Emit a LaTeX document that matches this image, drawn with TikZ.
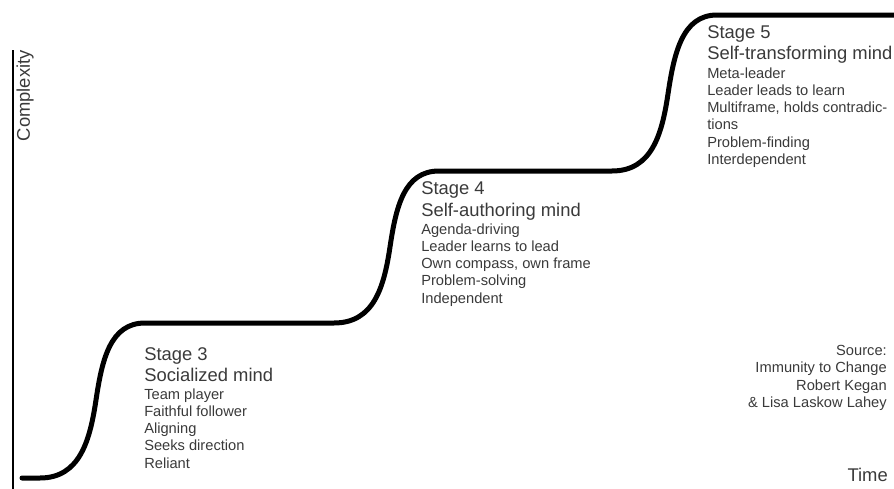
\documentclass[tikz,border=0pt]{standalone}
\usepackage{fontspec}
\setmainfont{Liberation Sans}
\definecolor{inkgray}{HTML}{3A3A3A}

\begin{document}
\begin{tikzpicture}[x=0.75pt, y=-0.75pt,
    stage/.style={
        anchor=base west,
        inner sep=0pt,
        text=inkgray,
        font=\fontsize{13.8}{16}\selectfont
    },
    item/.style={
        anchor=base west,
        inner sep=0pt,
        text=inkgray,
        font=\fontsize{11}{13}\selectfont
    },
    source/.style={
        item,
        anchor=base east
    },
    stair/.style={line width=3.75pt, line cap=round},
    axisline/.style={line width=1.6pt}
]
\useasboundingbox (0,0) rectangle (894,489);

%%%%%%%%%%%%%%%%%%%%%%%%
% Axis
%%%%%%%%%%%%%%%%%%%%%%%%

\coordinate (axtop) at (13,50);
\coordinate (axbot) at (13,489);
\draw[axisline] (axtop) -- (axbot);
\node[stage, rotate=90, anchor=base east] (complexity) at (30,50) {Complexity};
\node[stage, anchor=base east] (time) at (888,481) {Time};

%%%%%%%%%%%%%%%%%%%%%%%%
% Staircase
%%%%%%%%%%%%%%%%%%%%%%%%

\draw[stair] (22,478) -- (40,478)
    .. controls (80,478) and (90,440) .. (96,400)
    .. controls (102,360) and (110,323) .. (145,323)
    -- (334,323)
    .. controls (374,323) and (384,287) .. (390,247)
    .. controls (396,207) and (404,171) .. (439,171)
    -- (612,171)
    .. controls (652,171) and (662,134) .. (668,94)
    .. controls (674,54) and (682,15) .. (717,15)
    -- (894,15);

%%%%%%%%%%%%%%%%%%%%%%%%
% Stage 3
%%%%%%%%%%%%%%%%%%%%%%%%

\node[stage] (s3) at (144,360) {Stage 3};
\node[stage] (m3) at (144,381) {Socialized mind};
\foreach \t [count=\i] in {Team player, Faithful follower, Aligning,
    Seeks direction, Reliant}
    \node[item] (l3-\i) at (144,{399+17.3*(\i-1)}) {\t};

%%%%%%%%%%%%%%%%%%%%%%%%
% Stage 4
%%%%%%%%%%%%%%%%%%%%%%%%

\node[stage] (s4) at (421,194) {Stage 4};
\node[stage] (m4) at (421,216) {Self-authoring mind};
\foreach \t [count=\i] in {Agenda-driving, Leader learns to lead,
    {Own compass, own frame}, Problem-solving, Independent}
    \node[item] (l4-\i) at (421,{234+17.3*(\i-1)}) {\t};

%%%%%%%%%%%%%%%%%%%%%%%%
% Stage 5
%%%%%%%%%%%%%%%%%%%%%%%%

\node[stage] (s5) at (707,38) {Stage 5};
\node[stage] (m5) at (707,60) {Self-transforming mind};
\foreach \t [count=\i] in {Meta-leader, Leader leads to learn,
    {Multiframe, holds contradic-}, tions, Problem-finding, Interdependent}
    \node[item] (l5-\i) at (707,{78+17.3*(\i-1)}) {\t};

%%%%%%%%%%%%%%%%%%%%%%%%
% Source
%%%%%%%%%%%%%%%%%%%%%%%%

\foreach \t [count=\i] in {Source:, Immunity to Change, Robert Kegan,
    \& Lisa Laskow Lahey}
    \node[source] (src-\i) at (887,{355+17.6*(\i-1)}) {\t};

\end{tikzpicture}
\end{document}
